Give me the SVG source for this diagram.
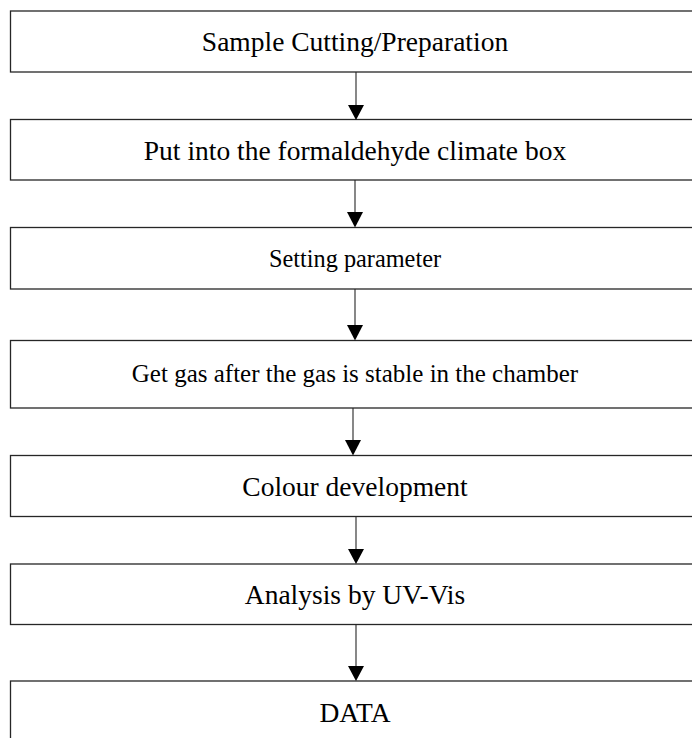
<svg xmlns="http://www.w3.org/2000/svg" width="692" height="738" viewBox="0 0 692 738">
<style>
.box{fill:#fff;stroke:#262626;stroke-width:1.3}
.t{font-family:"Liberation Serif","Times New Roman",serif;font-size:27.5px;fill:#000;text-anchor:middle}
.c{stroke:#262626;stroke-width:1.1;fill:none}
.h{fill:#000}
</style>
<rect width="692" height="738" fill="#fff"/>
<g id="n1"><rect class="box" x="10.5" y="11" width="700" height="61"/><text class="t" x="355" y="51">Sample Cutting/Preparation</text></g>
<g id="n2"><rect class="box" x="10.5" y="119.5" width="700" height="60.5"/><text class="t" x="355" y="159.5">Put into the formaldehyde climate box</text></g>
<g id="n3"><rect class="box" x="10.5" y="227.5" width="700" height="61.5"/><text class="t" x="355" y="267" style="font-size:24.3px">Setting parameter</text></g>
<g id="n4"><rect class="box" x="10.5" y="340.5" width="700" height="67.5"/><text class="t" x="355" y="382" style="font-size:25px">Get gas after the gas is stable in the chamber</text></g>
<g id="n5"><rect class="box" x="10.5" y="455.5" width="700" height="61"/><text class="t" x="355" y="495.5">Colour development</text></g>
<g id="n6"><rect class="box" x="10.5" y="564" width="700" height="60.5"/><text class="t" x="355" y="603.5">Analysis by UV-Vis</text></g>
<g id="n7"><rect class="box" x="10.5" y="681" width="700" height="80"/><text class="t" x="355" y="721.5">DATA</text></g>
<g id="connectors">
<line class="c" x1="356" y1="72" x2="356" y2="106"/><polygon class="h" points="348,105 364,105 356,120"/>
<line class="c" x1="355" y1="180" x2="355" y2="213"/><polygon class="h" points="347,212 363,212 355,227.5"/>
<line class="c" x1="355" y1="289" x2="355" y2="326"/><polygon class="h" points="347,325 363,325 355,340.5"/>
<line class="c" x1="353" y1="408" x2="353" y2="441"/><polygon class="h" points="345,440 361,440 353,455.5"/>
<line class="c" x1="356" y1="517" x2="356" y2="550"/><polygon class="h" points="348,549 364,549 356,564"/>
<line class="c" x1="356" y1="624.5" x2="356" y2="667"/><polygon class="h" points="348,666 364,666 356,681"/>
</g>
</svg>
